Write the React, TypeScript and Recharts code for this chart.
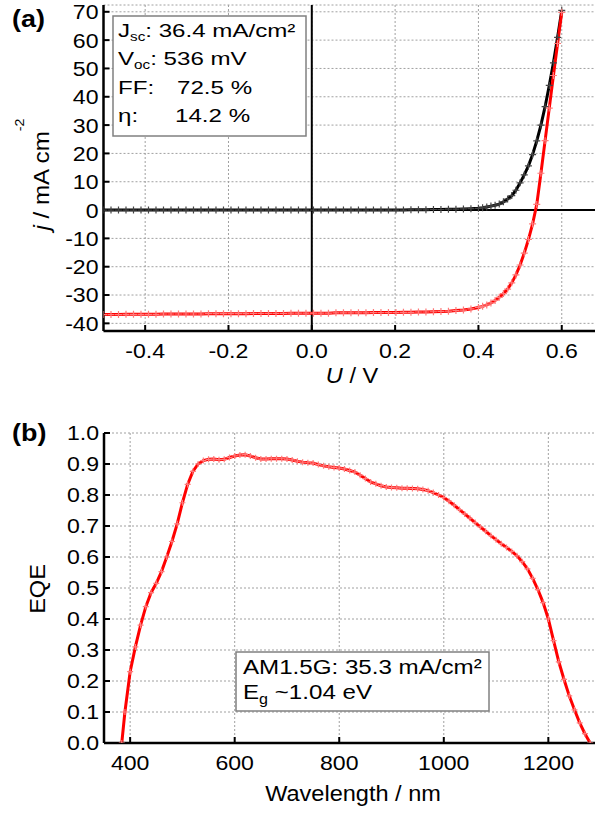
import React from 'react';
import { LineChart, Line, XAxis, YAxis, CartesianGrid, ReferenceLine } from 'recharts';

const FONT = "'Liberation Sans', Arial, Helvetica, sans-serif";

// ---- Panel (a): J-V data ----
const voltages = [
  -0.5, -0.482, -0.464, -0.446, -0.428, -0.41, -0.392, -0.374, -0.356, -0.338,
  -0.32, -0.302, -0.284, -0.266, -0.248, -0.23, -0.212, -0.194, -0.176, -0.158,
  -0.14, -0.122, -0.104, -0.086, -0.068, -0.05, -0.032, -0.014, 0.004, 0.022,
  0.04, 0.058, 0.076, 0.094, 0.112, 0.13, 0.148, 0.166, 0.184, 0.202,
  0.22, 0.238, 0.256, 0.274, 0.292, 0.31, 0.328, 0.346, 0.364, 0.382,
  0.4, 0.41, 0.42, 0.43, 0.44, 0.45, 0.46, 0.47, 0.48, 0.49,
  0.5, 0.51, 0.52, 0.53, 0.54, 0.55, 0.56, 0.57, 0.58, 0.59, 0.6,
];
const lightJ = [
  -36.9, -36.9, -36.9, -36.8, -36.8, -36.8, -36.8, -36.8, -36.7, -36.7,
  -36.7, -36.7, -36.7, -36.7, -36.6, -36.6, -36.6, -36.6, -36.6, -36.6,
  -36.5, -36.5, -36.5, -36.5, -36.5, -36.4, -36.4, -36.4, -36.4, -36.4,
  -36.4, -36.3, -36.3, -36.3, -36.3, -36.3, -36.2, -36.2, -36.2, -36.2,
  -36.1, -36.1, -36.0, -36.0, -35.9, -35.8, -35.7, -35.5, -35.3, -34.9,
  -34.4, -34.0, -33.5, -32.8, -31.9, -30.8, -29.5, -27.9, -25.7, -22.9,
  -19.4, -15.2, -10.4, -4.9, 2.0, 13.0, 24.5, 36.0, 47.5, 58.8, 69.8,
];
const darkJ = [
  0, 0, 0, 0, 0, 0, 0, 0, 0, 0,
  0, 0, 0, 0, 0, 0, 0, 0, 0, 0,
  0, 0, 0, 0, 0, 0, 0, 0, 0, 0,
  0, 0, 0, 0, 0, 0, 0, 0, 0, 0,
  0, 0.1, 0.1, 0.1, 0.2, 0.2, 0.3, 0.3, 0.4, 0.5,
  0.6, 0.8, 1.1, 1.4, 1.7, 2.1, 2.9, 3.9, 5.1, 7.0,
  9.6, 12.4, 15.6, 19.6, 24.4, 30.0, 36.5, 44.0, 52.0, 61.0, 70.5,
];
const jvTicksX = [-0.4, -0.2, 0, 0.2, 0.4, 0.6];
const jvTicksY = [-40, -30, -20, -10, 0, 10, 20, 30, 40, 50, 60, 70];

// ---- Panel (b): EQE data ----
const wavelengths = [
  384, 390, 400, 410, 420, 430, 440, 450, 460, 470, 480, 490, 500, 510, 520, 530, 540, 550, 560, 570,
  580, 590, 600, 610, 620, 630, 640, 650, 660, 670, 680, 690, 700, 710, 720, 730, 740, 750, 760, 770,
  780, 790, 800, 810, 820, 830, 840, 850, 860, 870, 880, 890, 900, 910, 920, 930, 940, 950, 960, 970,
  980, 990, 1000, 1010, 1020, 1030, 1040, 1050, 1060, 1070, 1080, 1090, 1100, 1110, 1120, 1130, 1140,
  1150, 1160, 1170, 1180, 1190, 1200, 1210, 1220, 1230, 1240, 1250, 1260, 1270, 1280,
];
const eqe = [
  0.0, 0.10, 0.23, 0.31, 0.38, 0.44, 0.485, 0.515, 0.553, 0.60, 0.65, 0.707, 0.775, 0.834, 0.876, 0.900, 0.911, 0.915, 0.916, 0.914,
  0.915, 0.921, 0.926, 0.929, 0.930, 0.926, 0.920, 0.916, 0.916, 0.917, 0.917, 0.917, 0.916, 0.913, 0.909, 0.906, 0.904, 0.903, 0.898, 0.894,
  0.891, 0.889, 0.887, 0.884, 0.879, 0.874, 0.864, 0.853, 0.842, 0.836, 0.830, 0.826, 0.824, 0.823, 0.822, 0.822, 0.821, 0.820, 0.818, 0.814,
  0.808, 0.800, 0.792, 0.780, 0.767, 0.753, 0.739, 0.725, 0.711, 0.697, 0.683, 0.669, 0.656, 0.643, 0.631, 0.618, 0.604,
  0.585, 0.562, 0.531, 0.495, 0.453, 0.400, 0.330, 0.262, 0.205, 0.152, 0.107, 0.065, 0.030, 0.0,
];
const eqeTicksX = [400, 600, 800, 1000, 1200];
const eqeTicksY = [0, 0.1, 0.2, 0.3, 0.4, 0.5, 0.6, 0.7, 0.8, 0.9, 1.0];

const jvData = voltages.map((v, i) => ({ v, light: lightJ[i], dark: darkJ[i] }));
const eqeData = wavelengths.map((w, i) => ({ w, eqe: eqe[i] }));

const TICK_FS = 21;
const SX = 1.1;

const makeTick = (fmt: (v: number) => string, anchor: string, dy: string) => (props: any) => {
  const { x, y, payload, index } = props;
  return (
    <text
      key={index}
      transform={`translate(${x},${y}) scale(${SX},1)`}
      textAnchor={anchor as any}
      dy={dy}
      fontSize={TICK_FS}
      fontFamily={FONT}
      fill="#000"
    >
      {fmt(payload.value)}
    </text>
  );
};

const plusDot = (color: string, r: number, w: number) => (props: any) => {
  const { cx, cy, index } = props;
  if (cx == null || cy == null || isNaN(cx) || isNaN(cy)) return <g key={index} />;
  return (
    <path
      key={index}
      d={`M${cx - r},${cy}H${cx + r}M${cx},${cy - r}V${cy + r}`}
      stroke={color}
      strokeWidth={w}
      fill="none"
    />
  );
};

const axisLine = { stroke: '#000', strokeWidth: 2.5 };
const tickLine = { stroke: '#000', strokeWidth: 2 };

const noTick = () => <g />;

export default function App() {
  return (
    <div style={{ position: 'absolute', left: 0, top: 0, width: 595, height: 814, overflow: 'hidden', background: '#fff' }}>
      <div style={{ position: 'absolute', left: 0, top: 0 }}>
        <LineChart width={598} height={400} data={jvData} margin={{ top: 5, right: 0, bottom: 0, left: 0 }}>
          <CartesianGrid stroke="#a0a0a0" strokeDasharray="2 2" strokeWidth={1} />
          <XAxis
            dataKey="v" type="number" domain={[-0.5, 0.687]} ticks={jvTicksX} allowDataOverflow
            height={69} tickSize={-6} tickMargin={18} axisLine={axisLine} tickLine={tickLine}
            tick={makeTick((v) => v.toFixed(1), 'middle', '0.71em')}
          />
          <XAxis
            xAxisId="top" orientation="top" dataKey="v" type="number" domain={[-0.5, 0.687]} ticks={jvTicksX}
            allowDataOverflow height={0} tickSize={-6} axisLine={axisLine} tickLine={tickLine} tick={noTick}
          />
          <YAxis
            type="number" domain={[-42.7, 72.4]} ticks={jvTicksY} allowDataOverflow width={103.5}
            tickSize={-6} tickMargin={11} axisLine={axisLine} tickLine={tickLine}
            tick={makeTick((v) => String(v), 'end', '0.355em')}
          />
          <YAxis
            yAxisId="right" orientation="right" type="number" domain={[-42.7, 72.4]} ticks={jvTicksY}
            allowDataOverflow width={0} tickSize={-6} axisLine={axisLine} tickLine={tickLine} tick={noTick}
          />
          <ReferenceLine y={0} stroke="#000" strokeWidth={2} />
          <ReferenceLine x={0} stroke="#000" strokeWidth={2} />
          <Line
            dataKey="dark" type="linear" stroke="#000" strokeWidth={3} isAnimationActive={false}
            dot={plusDot('#444', 3.5, 1.2)} activeDot={false}
          />
          <Line
            dataKey="light" type="linear" stroke="#ff0000" strokeWidth={3} isAnimationActive={false}
            dot={plusDot('#ff7a7a', 3.5, 1.2)} activeDot={false}
          />
        </LineChart>
      </div>

      <div style={{ position: 'absolute', left: 0, top: 400 }}>
        <LineChart width={598} height={414} data={eqeData} margin={{ top: 33, right: 0, bottom: 0, left: 0 }}>
          <CartesianGrid stroke="#a0a0a0" strokeDasharray="2 2" strokeWidth={1} />
          <XAxis
            dataKey="w" type="number" domain={[350, 1295]} ticks={eqeTicksX} allowDataOverflow
            height={71} tickSize={-6} tickMargin={18} axisLine={axisLine} tickLine={tickLine}
            tick={makeTick((v) => String(v), 'middle', '0.71em')}
          />
          <XAxis
            xAxisId="top" orientation="top" dataKey="w" type="number" domain={[350, 1295]} ticks={eqeTicksX}
            allowDataOverflow height={0} tickSize={-6} axisLine={axisLine} tickLine={tickLine} tick={noTick}
          />
          <YAxis
            type="number" domain={[0, 1]} ticks={eqeTicksY} allowDataOverflow width={104}
            tickSize={-6} tickMargin={11} axisLine={axisLine} tickLine={tickLine}
            tick={makeTick((v) => v.toFixed(1), 'end', '0.355em')}
          />
          <YAxis
            yAxisId="right" orientation="right" type="number" domain={[0, 1]} ticks={eqeTicksY}
            allowDataOverflow width={0} tickSize={-6} axisLine={axisLine} tickLine={tickLine} tick={noTick}
          />
          <Line
            dataKey="eqe" type="linear" stroke="#ff0000" strokeWidth={3} isAnimationActive={false}
            dot={plusDot('#ff7a7a', 3, 1.2)} activeDot={false}
          />
        </LineChart>
      </div>

      <svg
        width={595}
        height={814}
        style={{ position: 'absolute', left: 0, top: 0, pointerEvents: 'none' }}
        fontFamily={FONT}
      >
        {/* panel letters */}
        <text transform="translate(12,27) scale(1.17,1)" fontSize={23} fontWeight="bold" fill="#000">(a)</text>
        <text transform="translate(12,441) scale(1.17,1)" fontSize={23} fontWeight="bold" fill="#000">(b)</text>

        {/* axis titles (a) */}
        <text transform="translate(49,174.5) rotate(-90) scale(1.1,1)" textAnchor="middle" fontSize={22} fill="#000">
          <tspan fontStyle="italic">j</tspan> / mA cm<tspan fontSize={13} dy={-25}>-2</tspan>
        </text>
        <text transform="translate(352,382.5) scale(1.07,1)" textAnchor="middle" fontSize={22} fill="#000">
          <tspan fontStyle="italic">U</tspan> / V
        </text>

        {/* axis titles (b) */}
        <text transform="translate(45,589) rotate(-90) scale(1.07,1)" textAnchor="middle" fontSize={22} fill="#000">EQE</text>
        <text transform="translate(353,801) scale(1.07,1)" textAnchor="middle" fontSize={22} fill="#000">Wavelength / nm</text>

        {/* legend box (a) */}
        <rect x={113} y={16} width={193} height={120} fill="#fff" stroke="#808080" strokeWidth={1.5} />
        <g fontSize={19} fill="#000">
          <text transform="translate(118,37) scale(1.27,1)">
            J<tspan fontSize={12} dy={4}>sc</tspan><tspan dy={-4}>: 36.4 mA/cm²</tspan>
          </text>
          <text transform="translate(118,65) scale(1.27,1)">
            V<tspan fontSize={12} dy={4}>oc</tspan><tspan dy={-4}>: 536 mV</tspan>
          </text>
          <text transform="translate(118,93.5) scale(1.27,1)">FF:</text>
          <text transform="translate(177,93.5) scale(1.27,1)">72.5 %</text>
          <text transform="translate(118,122) scale(1.27,1)">η:</text>
          <text transform="translate(175,122) scale(1.27,1)">14.2 %</text>
        </g>

        {/* legend box (b) */}
        <rect x={236} y={652} width={253} height={59} fill="#fff" stroke="#808080" strokeWidth={1.5} />
        <g fontSize={21} fill="#000">
          <text transform="translate(243,674) scale(1.15,1)">AM1.5G: 35.3 mA/cm²</text>
          <text transform="translate(243,699) scale(1.15,1)">
            E<tspan fontSize={14} dy={5}>g</tspan><tspan dy={-5}> ~1.04 eV</tspan>
          </text>
        </g>
      </svg>
    </div>
  );
}
